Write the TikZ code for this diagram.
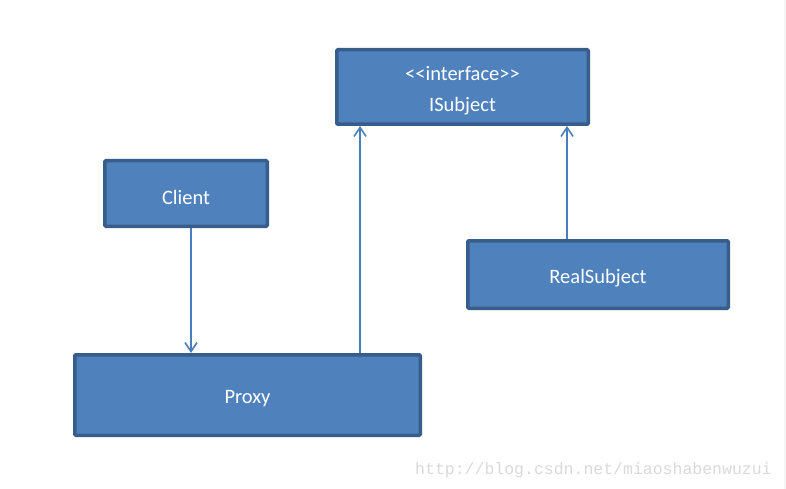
\documentclass[tikz,border=0pt]{standalone}
\usepackage{fontspec}
\newfontfamily\carl{Carlito}
\newfontfamily\wmark{Liberation Mono}
\usetikzlibrary{arrows.meta,calc}
\definecolor{boxfill}{HTML}{4F81BD}
\definecolor{boxline}{HTML}{385D8A}
\definecolor{arrcol}{HTML}{4A7EBB}
\definecolor{wmcol}{HTML}{DADADA}
\newcommand{\dn}[1]{\raisebox{-3.5pt}[\height][\depth]{#1}}
\tikzset{
  umlbox/.style={draw=boxline, fill=boxfill, line width=3.5pt, rounded corners=1pt,
    text=white, font=\carl\fontsize{20.5}{30.5}\selectfont, inner sep=0pt, align=center},
  arr/.style={draw=arrcol, line width=1.6pt, -{Straight Barb[length=9pt,width=12pt,line width=1.6pt]}},
}
\begin{document}
\begin{tikzpicture}[x=1pt,y=-1pt]
\useasboundingbox (0,0) rectangle (786,489);
\fill[white] (0,0) rectangle (786,489);
\fill[black!4] (784,0) rectangle (786,489);
\node[umlbox, minimum width=251.5pt, minimum height=74.5pt] (isub) at (462.5,87) {\dn{<<interface>>}\\\dn{ISubject}};
\node[umlbox, minimum width=162.5pt, minimum height=65.5pt] (client) at (186,193.5) {\dn{Client}};
\node[umlbox, minimum width=260.5pt, minimum height=67.5pt] (real) at (598,274.5) {\dn{RealSubject}};
\node[umlbox, minimum width=345.5pt, minimum height=80.5pt] (proxy) at (247.5,395) {\dn{Proxy}};
\draw[arr] ($(client.south)+(5,0)$) -- ($(proxy.north)+(-56.5,0)$);
\draw[arr] ($(proxy.north)+(112.5,0)$) -- ($(isub.south)+(-102.5,0)$);
\draw[arr] ($(real.north)+(-31,0)$) -- ($(isub.south)+(104.5,0)$);
\node[text=wmcol, font=\wmark\fontsize{16.5}{18}\selectfont, anchor=base west, inner sep=0pt] (wm) at (415,474) {http://blog.csdn.net/miaoshabenwuzui};
\end{tikzpicture}
\end{document}
